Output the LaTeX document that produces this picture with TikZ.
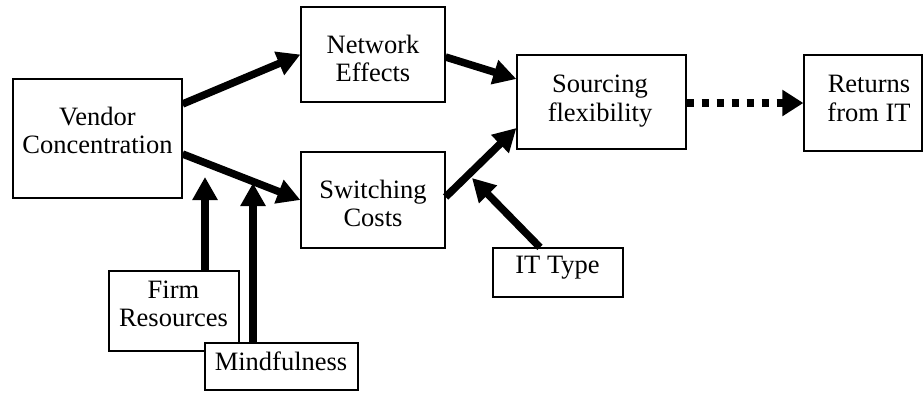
\documentclass[tikz,border=0pt]{standalone}
\usepackage{fontspec}
\setmainfont{Liberation Serif}
\usetikzlibrary{arrows.meta}

\begin{document}
\begin{tikzpicture}[x=1pt, y=-1pt,
  box/.style={draw=black, line width=1.2pt, fill=white, inner sep=0pt},
  label text/.style={inner sep=0pt, align=center,
    font=\fontsize{26.5pt}{28.5pt}\selectfont},
  flow/.style={line width=7.5pt, -{Triangle[length=23pt,width=24pt]}},
  dotflow/.style={line width=7.5pt, dash pattern=on 7pt off 8pt,
    -{Triangle[length=21pt,width=25pt]}}]

\useasboundingbox (0,0) rectangle (924,392);

% boxes
\node[box, minimum width=169pt, minimum height=119pt] (vendor)    at (97.5,138.5) {};
\node[box, minimum width=144pt, minimum height=95pt]  (network)   at (373,54.5)   {};
\node[box, minimum width=144pt, minimum height=96pt]  (switching) at (373,200)    {};
\node[box, minimum width=169pt, minimum height=94pt]  (sourcing)  at (601.5,102)  {};
\node[box, minimum width=118pt, minimum height=96pt]  (returns)   at (863,103)    {};
\node[box, minimum width=130pt, minimum height=49pt]  (ittype)    at (558,272.5)  {};
\node[box, minimum width=130pt, minimum height=80pt]  (firm)      at (174,311)    {};

% box texts
\node[label text] (vendorText)    at (97.5,130.3) {Vendor\\Concentration};
\node[label text] (networkText)   at (373,58.3)   {Network\\Effects};
\node[label text] (switchingText) at (373,203.3)  {Switching\\Costs};
\node[label text] (sourcingText)  at (600,101.1)  {Sourcing\\flexibility};
\node[label text] (returnsText)   at (869,98.3)   {Returns\\from IT};
\node[label text] (ittypeText)    at (557.5,267.6){IT Type};
\node[label text] (firmText)      at (173.5,303.8){Firm\\Resources};

% arrow targets on the connectors
\coordinate (ithit)   at (472,178);
\coordinate (firmhit) at (205,177);
\coordinate (mindhit) at (253,183);

% main paths
\draw[flow] ([yshift=34.5pt]vendor.east) -- (network.west);
\draw[flow] ([yshift=-15.5pt]vendor.east) -- (switching.west);
\draw[flow] ([yshift=-2.5pt]network.east) -- ([yshift=23pt]sourcing.west);
\draw[flow] ([yshift=3pt]switching.east) -- ([yshift=-26pt]sourcing.west);
\draw[dotflow] (sourcing.east |- returns.west) -- (returns.west);

% moderators
\draw[flow] ([xshift=-18pt]ittype.north) -- (ithit);
\draw[flow] ([xshift=31pt]firm.north) -- (firmhit);

% mindfulness box lies over the firm resources box
\node[box, minimum width=153pt, minimum height=47pt] (mind) at (281.5,366.5) {};
\node[label text] (mindText) at (281,361.3) {Mindfulness};
\draw[flow] ([xshift=-28.5pt]mind.north) -- (mindhit);

\end{tikzpicture}
\end{document}
